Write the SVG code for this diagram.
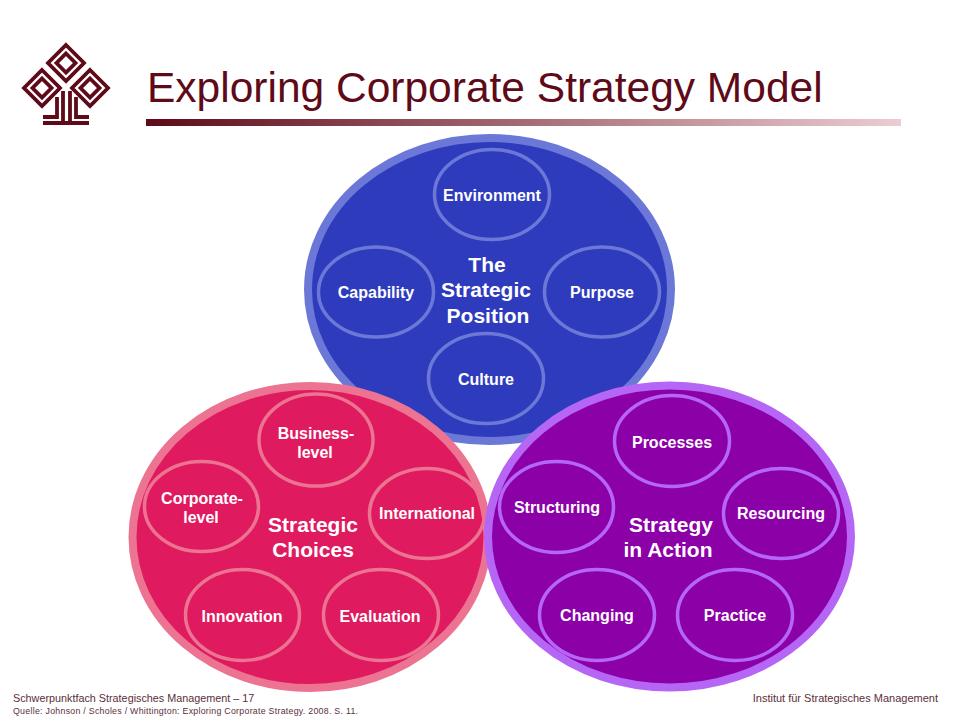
<svg xmlns="http://www.w3.org/2000/svg" width="960" height="720" viewBox="0 0 960 720">
<style>
text{font-family:"Liberation Sans",Arial,sans-serif}
.lbl{fill:#fff;font-size:16px;font-weight:bold;text-anchor:middle}
.big{fill:#fff;font-size:21px;font-weight:bold;text-anchor:middle}
.blue{fill:#2e3bbd;stroke:#6c78d8;stroke-width:8}
.red{fill:#df1a5e;stroke:#ec7391;stroke-width:8}
.pur{fill:#8c00a8;stroke:#b566f5;stroke-width:8}
.sb{fill:none;stroke:#6c78d8;stroke-width:3.500}
.sr{fill:none;stroke:#ec7391;stroke-width:3.500}
.sp{fill:none;stroke:#b566f5;stroke-width:3.500}
.logo{fill:none;stroke:#5e0a18;stroke-width:3.800}
.foot{fill:#5a3038}
</style>
<defs>
<linearGradient id="bar"><stop offset="0" stop-color="#5e0a18"/><stop offset="1" stop-color="#ecccd2"/></linearGradient>
<g id="dia"><path class="logo" d="M0-18 18 0 0 18-18 0Z"/><path class="logo" d="M0-9.500 9.500 0 0 9.500-9.500 0Z"/></g>
</defs>
<rect width="960" height="720" fill="#fff"/>
<g id="logo">
<use href="#dia" x="66" y="63"/><use href="#dia" x="42" y="88"/><use href="#dia" x="90" y="88"/>
<path class="logo" d="M57 97V117H43M63 91V123M43 123H89M70 91V123M76 97V117H89"/>
</g>
<text x="147" y="102" font-size="42.500" fill="#5e0a18">Exploring Corporate Strategy Model</text>
<rect x="146" y="119" width="755" height="7" fill="url(#bar)"/>
<g id="position">
<ellipse class="blue" cx="489.500" cy="289.500" rx="181.500" ry="151.500"/>
<text class="big"><tspan x="487" y="272">The</tspan><tspan x="486" y="297">Strategic</tspan><tspan x="488" y="323">Position</tspan></text>
</g>
<g id="environment"><ellipse class="sb" cx="492" cy="194.500" rx="57.500" ry="45"/><text class="lbl" x="492" y="201">Environment</text></g>
<g id="capability"><ellipse class="sb" cx="376" cy="292" rx="57.500" ry="45"/><text class="lbl" x="376" y="298">Capability</text></g>
<g id="purpose"><ellipse class="sb" cx="602" cy="292" rx="57.500" ry="45"/><text class="lbl" x="602" y="298">Purpose</text></g>
<g id="culture"><ellipse class="sb" cx="486" cy="378.500" rx="57.500" ry="45"/><text class="lbl" x="486" y="385">Culture</text></g>
<g id="choices">
<ellipse class="red" cx="310" cy="537" rx="177.500" ry="151"/>
<text class="big"><tspan x="313" y="532">Strategic</tspan><tspan x="313" y="557">Choices</tspan></text>
</g>
<g id="business"><ellipse class="sr" cx="316" cy="440" rx="57" ry="46"/><text class="lbl"><tspan x="316" y="439">Business-</tspan><tspan x="315" y="458">level</tspan></text></g>
<g id="corporate"><ellipse class="sr" cx="201.500" cy="506.500" rx="57" ry="45"/><text class="lbl"><tspan x="202" y="504">Corporate-</tspan><tspan x="201" y="523">level</tspan></text></g>
<g id="international"><ellipse class="sr" cx="427" cy="513.500" rx="57.500" ry="45"/><text class="lbl" x="427" y="519">International</text></g>
<g id="innovation"><ellipse class="sr" cx="242.500" cy="615" rx="57" ry="45.500"/><text class="lbl" x="242" y="622">Innovation</text></g>
<g id="evaluation"><ellipse class="sr" cx="381" cy="615" rx="57.500" ry="45.500"/><text class="lbl" x="380" y="622">Evaluation</text></g>
<g id="action">
<ellipse class="pur" cx="669.500" cy="536.500" rx="181.500" ry="151"/>
<text class="big"><tspan x="671" y="532">Strategy</tspan><tspan x="668" y="557">in Action</tspan></text>
</g>
<g id="processes"><ellipse class="sp" cx="672" cy="441" rx="57.500" ry="45.500"/><text class="lbl" x="672" y="448">Processes</text></g>
<g id="structuring"><ellipse class="sp" cx="556.500" cy="507" rx="57" ry="45.500"/><text class="lbl" x="557" y="513">Structuring</text></g>
<g id="resourcing"><ellipse class="sp" cx="781" cy="513.500" rx="57.500" ry="45"/><text class="lbl" x="781" y="519">Resourcing</text></g>
<g id="changing"><ellipse class="sp" cx="597" cy="615" rx="57.500" ry="45.500"/><text class="lbl" x="597" y="621">Changing</text></g>
<g id="practice"><ellipse class="sp" cx="735" cy="615" rx="57.500" ry="45.500"/><text class="lbl" x="735" y="621">Practice</text></g>
<g id="connectors"></g>
<text class="foot" x="13" y="702" font-size="10.800">Schwerpunktfach Strategisches Management – 17</text>
<text class="foot" x="13" y="714" font-size="8.800" letter-spacing=".27">Quelle: Johnson / Scholes / Whittington: Exploring Corporate Strategy. 2008. S. 11.</text>
<text class="foot" x="938" y="702" font-size="11" text-anchor="end">Institut für Strategisches Management</text>
</svg>
